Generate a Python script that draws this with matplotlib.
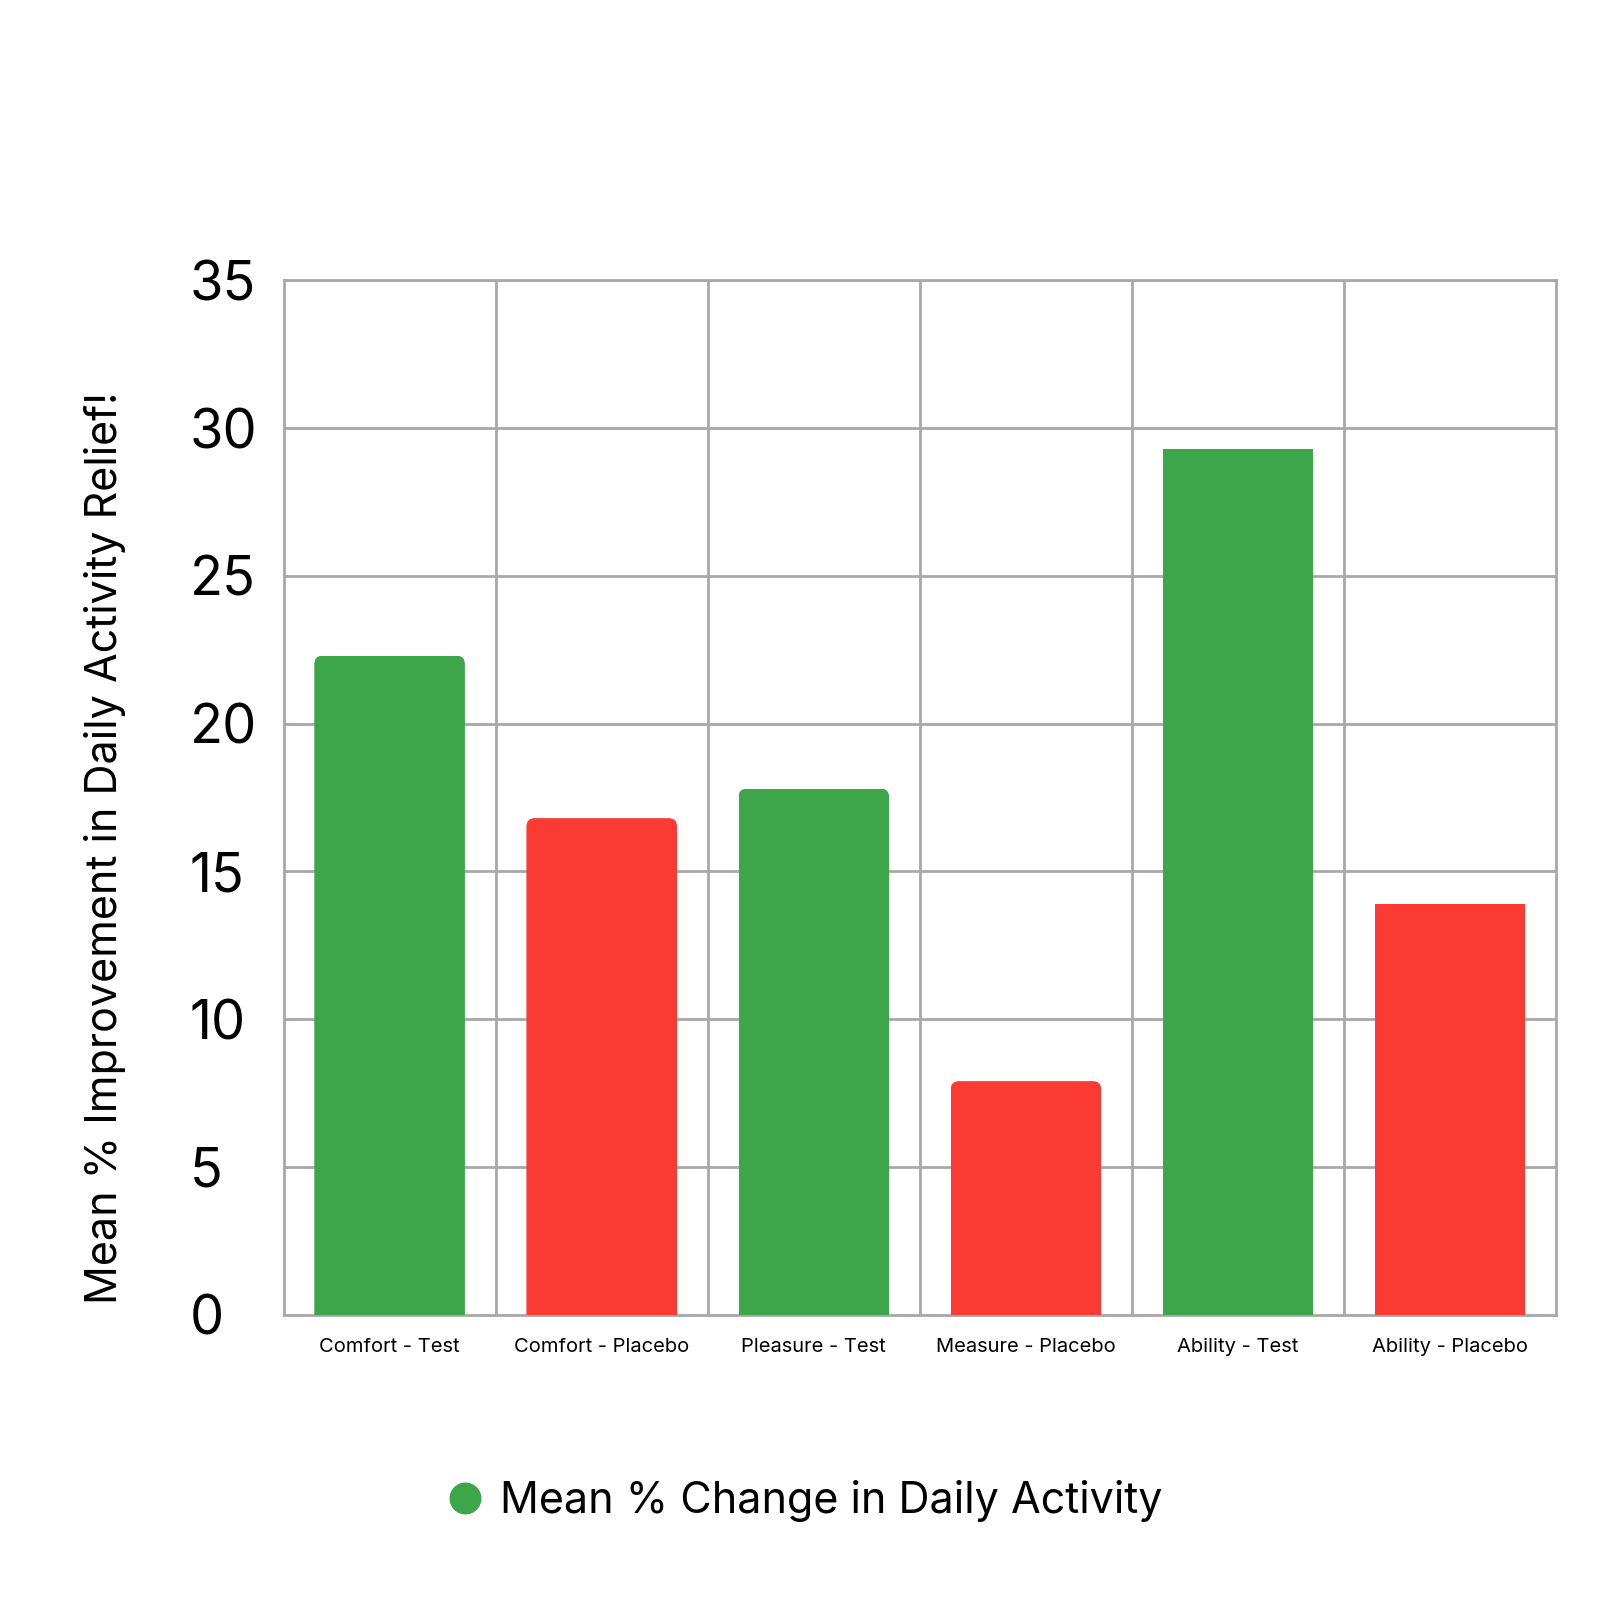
import matplotlib
matplotlib.use("Agg")
import matplotlib.pyplot as plt
from matplotlib.patches import FancyBboxPatch
from matplotlib.lines import Line2D

plt.rcParams['font.family'] = ['Inter', 'DejaVu Sans']

# Data
categories = ["Comfort - Test", "Comfort - Placebo", "Pleasure - Test",
              "Measure - Placebo", "Ability - Test", "Ability - Placebo"]
values = [22.3, 16.8, 17.8, 7.9, 29.3, 13.9]
groups = ["Test", "Placebo", "Test", "Placebo", "Test", "Placebo"]
rounded = [True, True, True, True, False, False]

GREEN = "#3da64b"
RED = "#f93b34"
GRID = "#a8a8a8"
colors = [GREEN if g == "Test" else RED for g in groups]

fig = plt.figure(figsize=(16.11, 16.11), dpi=100)
ax = fig.add_axes([0.176, 0.184, 0.790, 0.642])

width = 0.71
x = list(range(len(categories)))
bars = ax.bar(x, values, width=width, color=colors, zorder=3)

# rounded top corners for some bars (clip the bar to a rounded box)
r = 0.04
aspect = (1034 / 35) / (1273 / 6)
for rect, rnd in zip(bars, rounded):
    if not rnd:
        continue
    x0, h = rect.get_x(), rect.get_height()
    clip = FancyBboxPatch((x0, -2), width, h + 2,
                          boxstyle=f"round,pad=0,rounding_size={r}",
                          mutation_aspect=1 / aspect, transform=ax.transData)
    rect.set_clip_path(clip)

ax.set_xlim(-0.5, len(categories) - 0.5)
ax.set_ylim(0, 35)
ax.set_yticks(range(0, 36, 5))
ax.set_xticks(x)
ax.set_xticklabels(categories, fontsize=14.5)
ax.tick_params(axis="y", labelsize=39, length=0, pad=67.5)
for lbl in ax.get_yticklabels():
    lbl.set_horizontalalignment("left")
ax.tick_params(axis="x", length=0, pad=17)

# grid
for yv in range(5, 36, 5):
    ax.axhline(yv, color=GRID, lw=2, zorder=1)
for xv in range(1, len(categories)):
    ax.axvline(xv - 0.5, color=GRID, lw=2, zorder=1)
for s in ax.spines.values():
    s.set_color(GRID)
    s.set_linewidth(2)

ax.set_ylabel("Mean % Improvement in Daily Activity Relief!", fontsize=31)
ax.yaxis.set_label_coords(-0.124, 0.451)

handle = Line2D([], [], marker="o", color="none", markerfacecolor=GREEN,
                markeredgecolor=GREEN, markersize=22)
fig.legend([handle], ["Mean % Change in Daily Activity"], loc="center",
           bbox_to_anchor=(0.497, 0.068), frameon=False, fontsize=31,
           handletextpad=0.2, handlelength=1.2)

plt.savefig("out.png", dpi=100, facecolor="white")
